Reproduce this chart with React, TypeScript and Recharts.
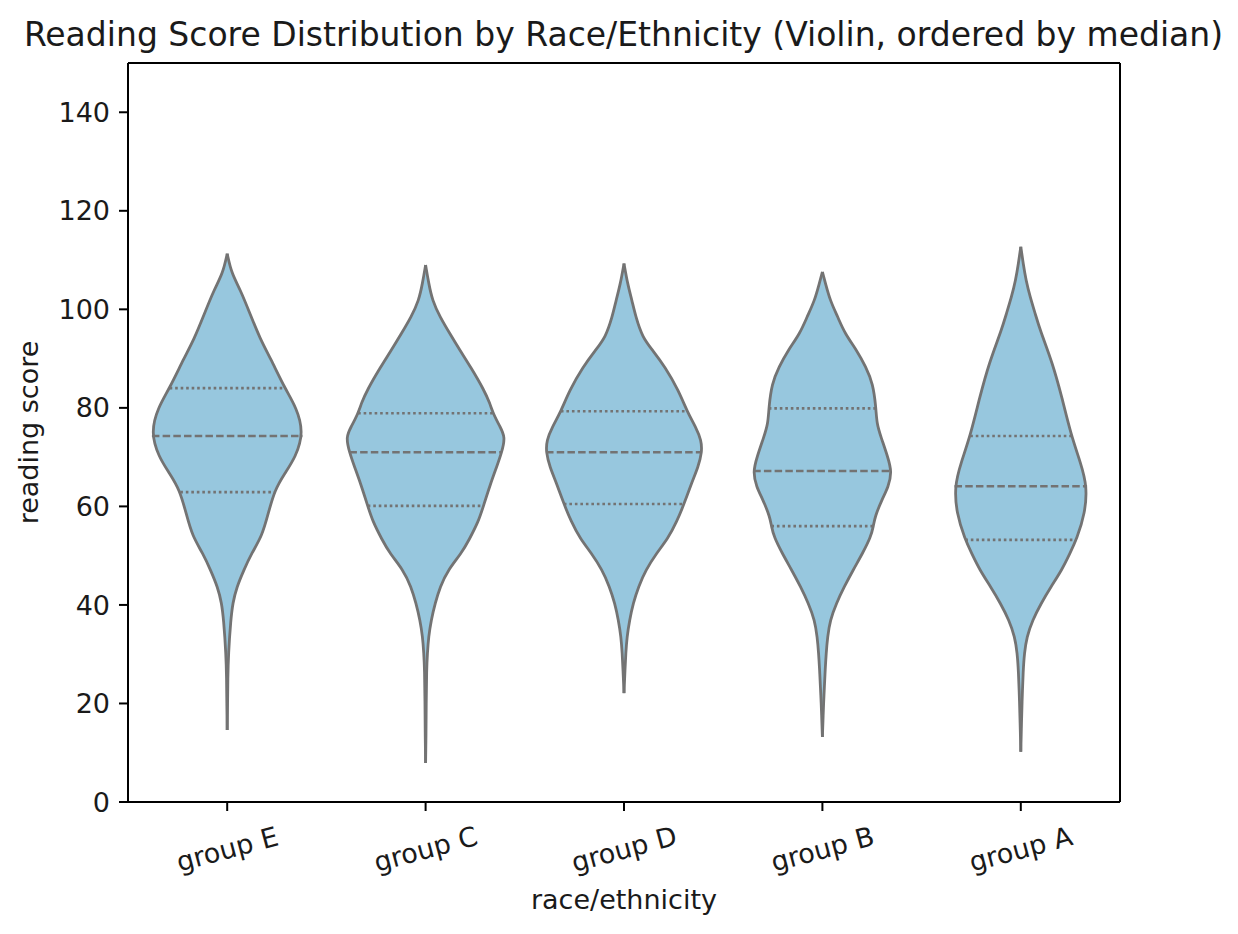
import React from 'react';
import { ComposedChart, Area, XAxis, YAxis, ReferenceLine } from 'recharts';

// Categories (ordered by median reading score)
const groups = ['group E', 'group C', 'group D', 'group B', 'group A'];

// Violin outlines: reading score and half-width (percent of a category slot)
const scoresE = [14.6, 20, 25, 30, 37, 40.4, 43.6, 47, 50.5, 54, 58.6, 63.3, 66.7, 70, 75, 80, 84, 90, 94, 99, 104, 107.3, 111.3];
const widthE = [0, 0.2, 0.3, 0.6, 1.8, 2.8, 4.8, 8.3, 12.3, 17.6, 20.7, 23.9, 29.0, 34.5, 38.5, 35.0, 29.0, 21.9, 16.6, 11.6, 6.6, 2.2, 0];

const scoresC = [7.9, 13.3, 20, 26.8, 30.2, 33.5, 36.9, 40.3, 43.7, 47.1, 50.5, 53.2, 57, 59.9, 64.7, 68, 71, 74.1, 76.1, 78.9, 80.9, 83.6, 88.3, 91.7, 95.1, 98.5, 101.8, 105.2, 109];
const widthC = [0, 0.2, 0.3, 0.5, 0.9, 1.5, 2.8, 4.8, 7.3, 11.3, 18.1, 21.9, 26.7, 29.0, 32.8, 35.8, 38.4, 40.2, 37.6, 34.0, 32.4, 29.5, 22.7, 17.3, 12.2, 7.2, 3.4, 1.6, 0];

const scoresD = [22.1, 26.8, 30.2, 33.5, 36.9, 40.3, 43.7, 47.1, 50.5, 53.5, 57, 60.5, 64.7, 68, 71, 73.4, 76.1, 79.1, 83.6, 88.3, 91.7, 94.3, 98.5, 101.8, 105.2, 109.3];
const widthD = [0, 0.5, 0.9, 1.5, 2.8, 4.6, 7.3, 11.0, 16.4, 22.2, 26.7, 30.3, 34.0, 37.4, 39.3, 39.0, 36.2, 32.0, 27.4, 20.7, 14.4, 9.3, 5.9, 4.0, 1.8, 0];

const scoresB = [13.2, 16.6, 20.1, 23.3, 26.8, 30.2, 33.5, 36.9, 40.3, 43.7, 47.1, 50.5, 53.8, 56, 57.9, 61.3, 64, 67, 70, 74.1, 76.8, 80, 84.9, 88.3, 91.7, 95.1, 98.5, 101.8, 105.2, 107.6];
const widthB = [0, 0.3, 0.6, 1.0, 1.4, 1.9, 2.6, 3.9, 7.0, 11.0, 15.5, 20.3, 24.4, 25.7, 26.5, 29.9, 33.3, 35.0, 33.0, 29.5, 27.4, 27.0, 25.5, 21.9, 17.3, 11.3, 7.7, 3.9, 1.6, 0];

const scoresA = [10.2, 15.3, 20, 26.8, 30.2, 33.5, 36.9, 40.3, 43.7, 47.1, 50.5, 53.4, 58.6, 64.1, 68.7, 74.5, 82.2, 89.1, 95.8, 99.2, 102.5, 105.9, 109.3, 112.7];
const widthA = [0, 0.3, 0.6, 1.2, 1.8, 3.0, 5.9, 10.2, 15.2, 20.7, 24.8, 28.2, 32.4, 33.4, 30.3, 25.3, 20.7, 16.0, 9.7, 7.2, 4.7, 2.6, 1.2, 0];

// Quartiles [Q1, median, Q3]
const quartE = [62.9, 74.3, 84.0];
const quartC = [60.1, 71.0, 78.9];
const quartD = [60.5, 71.0, 79.3];
const quartB = [56.0, 67.2, 79.9];
const quartA = [53.2, 64.1, 74.3];

const yTicks = [0, 20, 40, 60, 80, 100, 120, 140];
const xTicks = [0, 1, 2, 3, 4];
const yDomain = [0, 150];
const xDomain = [-0.5, 4.5];

const profiles = [
  { scores: scoresE, widths: widthE, quart: quartE },
  { scores: scoresC, widths: widthC, quart: quartC },
  { scores: scoresD, widths: widthD, quart: quartD },
  { scores: scoresB, widths: widthB, quart: quartB },
  { scores: scoresA, widths: widthA, quart: quartA },
];

const violinData = profiles.map((p, i) =>
  p.scores.map((s, k) => ({ score: s, range: [i - p.widths[k] / 100, i + p.widths[k] / 100] }))
);

function halfAt(scores: number[], widths: number[], s: number) {
  for (let k = 0; k < scores.length - 1; k++) {
    if (s >= scores[k] && s <= scores[k + 1]) {
      const t = (s - scores[k]) / (scores[k + 1] - scores[k]);
      return (widths[k] + t * (widths[k + 1] - widths[k])) / 100;
    }
  }
  return 0;
}

const FONT = 'DejaVu Sans';
const FILL = '#97c7de';
const LINE = '#737373';
const TEXT = '#1a1a1a';

const XTick = (props: any) => {
  const { x, y, payload } = props;
  const cy = y + 29;
  return (
    <text
      x={x}
      y={cy}
      textAnchor="middle"
      dominantBaseline="central"
      transform={`rotate(-15, ${x}, ${cy})`}
      fontSize={27}
      fontFamily={FONT}
      fill={TEXT}
    >
      {groups[payload.value]}
    </text>
  );
};

export default function App() {
  const W = 1230;
  const H = 926;
  return (
    <div style={{ position: 'relative', width: W, height: H, fontFamily: FONT }}>
      <ComposedChart width={W} height={H} layout="vertical" margin={{ top: 55, right: 118, bottom: 0, left: 0 }}>
        <XAxis
          xAxisId="x"
          type="number"
          domain={xDomain}
          allowDataOverflow
          ticks={xTicks}
          interval={0}
          height={132}
          tickSize={9}
          tickMargin={9}
          tick={<XTick />}
          axisLine={{ stroke: '#000', strokeWidth: 2 }}
          tickLine={{ stroke: '#000', strokeWidth: 2 }}
        />
        <YAxis
          yAxisId="y"
          type="number"
          dataKey="score"
          domain={yDomain}
          allowDataOverflow
          reversed
          ticks={yTicks}
          interval={0}
          width={120}
          tickSize={9}
          tickMargin={9}
          tick={{ fontSize: 27, fill: TEXT, fontFamily: FONT }}
          axisLine={{ stroke: '#000', strokeWidth: 2 }}
          tickLine={{ stroke: '#000', strokeWidth: 2 }}
        />
        {violinData.map((d, i) => (
          <Area
            key={groups[i]}
            data={d}
            xAxisId="x"
            yAxisId="y"
            dataKey="range"
            type="basis"
            fill={FILL}
            fillOpacity={1}
            stroke={LINE}
            strokeWidth={2.8}
            dot={false}
            activeDot={false}
            isAnimationActive={false}
          />
        ))}
        {profiles.map((p, i) =>
          p.quart.map((q, j) => {
            const w = halfAt(p.scores, p.widths, q);
            return (
              <ReferenceLine
                key={`${i}-${j}`}
                xAxisId="x"
                yAxisId="y"
                segment={[
                  { x: i - w, y: q },
                  { x: i + w, y: q },
                ]}
                stroke={LINE}
                strokeWidth={2.6}
                strokeDasharray={j === 1 ? '7.5 3.2' : '2.6 2.9'}
              />
            );
          })
        )}
        <ReferenceLine xAxisId="x" yAxisId="y" y={yDomain[1]} stroke="#000" strokeWidth={2} ifOverflow="visible" />
        <ReferenceLine xAxisId="x" yAxisId="y" x={xDomain[1]} stroke="#000" strokeWidth={2} ifOverflow="visible" />
      </ComposedChart>
      <svg
        width={W}
        height={H}
        style={{ position: 'absolute', left: 0, top: 0, pointerEvents: 'none' }}
      >
        <text x={615.5} y={38} textAnchor="middle" fontSize={33} fontFamily={FONT} fill={TEXT}>
          Reading Score Distribution by Race/Ethnicity (Violin, ordered by median)
        </text>
        <text x={616} y={901} textAnchor="middle" fontSize={27} fontFamily={FONT} fill={TEXT}>
          race/ethnicity
        </text>
        <text
          x={30}
          y={424.5}
          textAnchor="middle"
          fontSize={27}
          fontFamily={FONT}
          fill={TEXT}
          transform="rotate(-90, 30, 424.5)"
        >
          reading score
        </text>
      </svg>
    </div>
  );
}
